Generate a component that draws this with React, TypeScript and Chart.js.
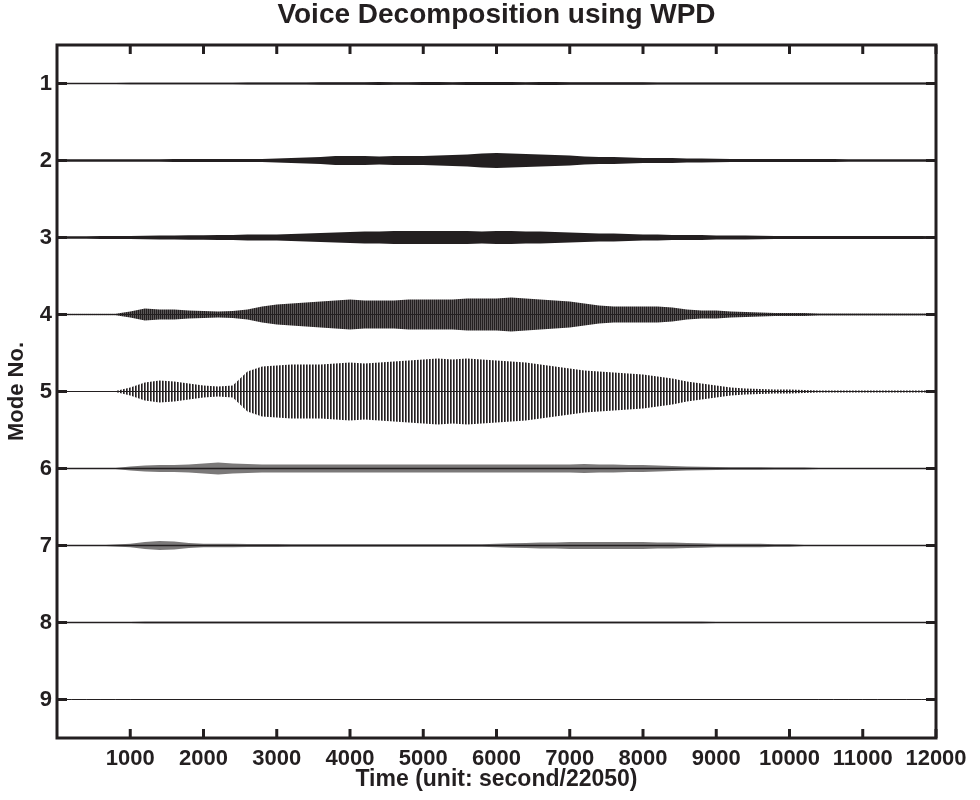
import React, { useEffect, useRef } from 'react';
import { Chart, registerables } from 'chart.js';

Chart.register(...registerables);

const TITLE = 'Voice Decomposition using WPD';
const X_TITLE = 'Time (unit: second/22050)';
const Y_TITLE = 'Mode No.';

const X_TICKS = [1000, 2000, 3000, 4000, 5000, 6000, 7000, 8000, 9000, 10000, 11000, 12000];
const MODES = [1, 2, 3, 4, 5, 6, 7, 8, 9];

// sample times of the envelope readings
const TIME = [
  0, 200, 400, 600, 800, 1000, 1200, 1400, 1600, 1800,
  2000, 2200, 2400, 2600, 2800, 3000, 3200, 3400, 3600, 3800,
  4000, 4200, 4400, 4600, 4800, 5000, 5200, 5400, 5600, 5800,
  6000, 6200, 6400, 6600, 6800, 7000, 7200, 7400, 7600, 7800,
  8000, 8200, 8400, 8600, 8800, 9000, 9200, 9400, 9600, 9800,
  10000, 10200, 10400, 10600, 10800, 11000, 11200, 11400, 11600, 11800, 12000,
];

// half-amplitude envelope of each mode (in mode-spacing units)
const MODE_1 = [
  0.008, 0.008, 0.008, 0.008, 0.008, 0.01, 0.01, 0.01, 0.01, 0.01,
  0.01, 0.01, 0.01, 0.012, 0.012, 0.012, 0.014, 0.014, 0.016, 0.016,
  0.016, 0.016, 0.018, 0.016, 0.016, 0.018, 0.018, 0.016, 0.018, 0.018,
  0.018, 0.018, 0.016, 0.018, 0.018, 0.016, 0.016, 0.016, 0.016, 0.016,
  0.016, 0.014, 0.014, 0.014, 0.014, 0.014, 0.014, 0.012, 0.012, 0.012,
  0.012, 0.012, 0.012, 0.012, 0.012, 0.012, 0.012, 0.012, 0.012, 0.012, 0.012,
];
const MODE_2 = [
  0.016, 0.016, 0.016, 0.016, 0.016, 0.016, 0.016, 0.016, 0.019, 0.019,
  0.019, 0.019, 0.019, 0.019, 0.019, 0.026, 0.032, 0.039, 0.045, 0.058,
  0.058, 0.058, 0.052, 0.058, 0.058, 0.058, 0.065, 0.071, 0.078, 0.091,
  0.097, 0.091, 0.084, 0.078, 0.071, 0.065, 0.052, 0.045, 0.045, 0.039,
  0.032, 0.032, 0.032, 0.026, 0.026, 0.023, 0.019, 0.019, 0.019, 0.019,
  0.019, 0.019, 0.019, 0.019, 0.016, 0.016, 0.016, 0.016, 0.016, 0.016, 0.016,
];
const MODE_3 = [
  0.016, 0.016, 0.016, 0.019, 0.019, 0.019, 0.023, 0.026, 0.026, 0.029,
  0.03, 0.032, 0.032, 0.039, 0.039, 0.039, 0.045, 0.052, 0.058, 0.065,
  0.071, 0.078, 0.078, 0.084, 0.084, 0.084, 0.084, 0.084, 0.084, 0.078,
  0.084, 0.084, 0.078, 0.078, 0.071, 0.065, 0.058, 0.052, 0.052, 0.045,
  0.039, 0.039, 0.032, 0.032, 0.032, 0.026, 0.026, 0.026, 0.023, 0.019,
  0.019, 0.019, 0.019, 0.019, 0.019, 0.019, 0.019, 0.019, 0.019, 0.019, 0.016,
];
const MODE_4 = [
  0.009, 0.009, 0.009, 0.009, 0.009, 0.039, 0.078, 0.065, 0.065, 0.052,
  0.045, 0.039, 0.045, 0.065, 0.104, 0.13, 0.143, 0.156, 0.169, 0.182,
  0.195, 0.182, 0.182, 0.182, 0.195, 0.195, 0.195, 0.195, 0.208, 0.208,
  0.208, 0.221, 0.208, 0.195, 0.182, 0.169, 0.143, 0.117, 0.104, 0.104,
  0.104, 0.104, 0.091, 0.065, 0.052, 0.052, 0.039, 0.032, 0.026, 0.019,
  0.019, 0.019, 0.013, 0.013, 0.013, 0.013, 0.013, 0.013, 0.013, 0.013, 0.013,
];
const MODE_5 = [
  0.006, 0.006, 0.006, 0.006, 0.006, 0.052, 0.117, 0.143, 0.13, 0.104,
  0.078, 0.065, 0.078, 0.26, 0.325, 0.338, 0.351, 0.351, 0.351, 0.364,
  0.377, 0.364, 0.377, 0.39, 0.403, 0.416, 0.429, 0.416, 0.429, 0.416,
  0.403, 0.39, 0.377, 0.351, 0.325, 0.299, 0.273, 0.26, 0.247, 0.234,
  0.221, 0.195, 0.169, 0.13, 0.104, 0.078, 0.052, 0.039, 0.032, 0.026,
  0.026, 0.019, 0.013, 0.013, 0.013, 0.013, 0.013, 0.013, 0.013, 0.013, 0.013,
];
const MODE_6 = [
  0.004, 0.004, 0.004, 0.004, 0.006, 0.026, 0.039, 0.045, 0.045, 0.052,
  0.065, 0.078, 0.065, 0.058, 0.052, 0.052, 0.052, 0.052, 0.052, 0.052,
  0.052, 0.052, 0.052, 0.052, 0.052, 0.052, 0.052, 0.052, 0.052, 0.052,
  0.052, 0.052, 0.052, 0.052, 0.052, 0.052, 0.058, 0.052, 0.052, 0.045,
  0.045, 0.039, 0.032, 0.026, 0.023, 0.019, 0.016, 0.016, 0.016, 0.013,
  0.013, 0.013, 0.006, 0.006, 0.006, 0.006, 0.006, 0.006, 0.006, 0.006, 0.006,
];
const MODE_7 = [
  0.004, 0.004, 0.004, 0.004, 0.013, 0.023, 0.045, 0.058, 0.052, 0.032,
  0.023, 0.023, 0.023, 0.019, 0.019, 0.019, 0.016, 0.016, 0.016, 0.016,
  0.016, 0.016, 0.016, 0.016, 0.016, 0.016, 0.016, 0.016, 0.016, 0.016,
  0.023, 0.03, 0.032, 0.039, 0.039, 0.045, 0.045, 0.045, 0.045, 0.045,
  0.045, 0.039, 0.039, 0.032, 0.03, 0.023, 0.023, 0.023, 0.023, 0.016,
  0.016, 0.008, 0.005, 0.005, 0.005, 0.005, 0.005, 0.005, 0.005, 0.005, 0.005,
];
const MODE_8 = [
  0.004, 0.004, 0.004, 0.004, 0.006, 0.008, 0.009, 0.009, 0.009, 0.009,
  0.009, 0.009, 0.009, 0.009, 0.009, 0.009, 0.009, 0.009, 0.009, 0.009,
  0.009, 0.009, 0.009, 0.009, 0.009, 0.009, 0.009, 0.009, 0.009, 0.009,
  0.009, 0.009, 0.009, 0.009, 0.009, 0.009, 0.009, 0.009, 0.009, 0.009,
  0.009, 0.009, 0.009, 0.009, 0.009, 0.008, 0.008, 0.008, 0.008, 0.008,
  0.008, 0.008, 0.006, 0.006, 0.006, 0.006, 0.006, 0.006, 0.006, 0.006, 0.006,
];
const MODE_9 = [
  0.004, 0.004, 0.004, 0.004, 0.004, 0.004, 0.005, 0.005, 0.005, 0.005,
  0.005, 0.005, 0.005, 0.005, 0.005, 0.005, 0.005, 0.005, 0.005, 0.005,
  0.005, 0.005, 0.005, 0.005, 0.005, 0.005, 0.005, 0.005, 0.005, 0.005,
  0.005, 0.005, 0.005, 0.005, 0.005, 0.005, 0.005, 0.005, 0.005, 0.005,
  0.005, 0.005, 0.005, 0.005, 0.005, 0.005, 0.005, 0.005, 0.005, 0.005,
  0.005, 0.005, 0.004, 0.004, 0.004, 0.004, 0.004, 0.004, 0.004, 0.004, 0.004,
];

const AMPLITUDES = [MODE_1, MODE_2, MODE_3, MODE_4, MODE_5, MODE_6, MODE_7, MODE_8, MODE_9];

const INK = '#231f20';
const FONT = "'Liberation Sans', Arial, Helvetica, sans-serif";

// band fill style per mode: 'solid', 'dense' hatching, 'hatch', or 'soft'
const BAND_STYLE = ['solid', 'solid', 'solid', 'dense', 'hatch', 'soft', 'soft', 'solid', 'solid'];
const LINE_WIDTH = [1.3, 1.2, 1.2, 1.2, 1.1, 1.3, 1.3, 1.5, 1.0];

const framePlugin = {
  id: 'matlabFrame',
  afterDatasetsDraw(chart: any) {
    const { ctx, chartArea, scales } = chart;
    const { left, right, top, bottom } = chartArea;
    const x = scales.x;
    const y = scales.y;
    ctx.save();
    ctx.strokeStyle = INK;
    ctx.lineWidth = 3;
    ctx.lineCap = 'butt';
    const seg = (x1: number, y1: number, x2: number, y2: number) => {
      ctx.beginPath();
      ctx.moveTo(x1, y1);
      ctx.lineTo(x2, y2);
      ctx.stroke();
    };
    X_TICKS.forEach((v) => {
      const px = x.getPixelForValue(v);
      seg(px, bottom, px, bottom - 9);
      seg(px, top, px, top + 9);
    });
    MODES.forEach((m) => {
      const py = y.getPixelForValue(m);
      seg(left, py, left + 10, py);
      seg(right, py, right - 10, py);
    });
    ctx.strokeRect(left, top, right - left, bottom - top);

    // title centred over the axes box
    ctx.fillStyle = INK;
    ctx.font = `bold 28px ${FONT}`;
    ctx.textAlign = 'center';
    ctx.textBaseline = 'middle';
    ctx.fillText(TITLE, (left + right) / 2, 15);
    ctx.restore();
  },
};

export default function App() {
  const ref = useRef<HTMLCanvasElement>(null);

  useEffect(() => {
    const canvas = ref.current;
    if (!canvas) return;
    const ctx = canvas.getContext('2d')!;

    const makePattern = (cols: string[]) => {
      const tile = document.createElement('canvas');
      tile.width = cols.length;
      tile.height = 1;
      const g = tile.getContext('2d')!;
      cols.forEach((c, i) => {
        if (c) {
          g.fillStyle = c;
          g.fillRect(i, 0, 1, 1);
        }
      });
      return ctx.createPattern(tile, 'repeat');
    };

    const fills: Record<string, any> = {
      solid: INK,
      dense: makePattern([INK, '#5a5657']),
      hatch: makePattern([INK, '#6e6a6b', '']),
      soft: 'rgba(35,31,32,0.6)',
    };

    const datasets: any[] = [];
    MODES.forEach((m, idx) => {
      const amp = AMPLITUDES[idx];
      datasets.push({
        data: TIME.map((t, i) => ({ x: t, y: m - amp[i] })),
        fill: '+1',
        backgroundColor: fills[BAND_STYLE[idx]],
        borderColor: 'rgba(0,0,0,0)',
        borderWidth: 0,
        pointRadius: 0,
      });
      datasets.push({
        data: TIME.map((t, i) => ({ x: t, y: m + amp[i] })),
        fill: false,
        borderColor: 'rgba(0,0,0,0)',
        borderWidth: 0,
        pointRadius: 0,
      });
      datasets.push({
        data: TIME.map((t) => ({ x: t, y: m })),
        fill: false,
        borderColor: INK,
        borderWidth: LINE_WIDTH[idx],
        pointRadius: 0,
      });
    });

    const tickFont = { family: FONT, size: 22, weight: 'bold' as const };
    const xTitleFont = { family: FONT, size: 23, weight: 'bold' as const };
    const yTitleFont = { family: FONT, size: 22, weight: 'bold' as const };

    const chart = new Chart(canvas, {
      type: 'line',
      data: { datasets },
      plugins: [framePlugin],
      options: {
        responsive: false,
        animation: false,
        devicePixelRatio: 1,
        events: [],
        layout: { padding: { left: 0, right: 44, top: 45, bottom: 0 } },
        plugins: {
          legend: { display: false },
          tooltip: { enabled: false },
          filler: { drawTime: 'beforeDatasetsDraw' },
          title: { display: false },
        },
        scales: {
          x: {
            type: 'linear',
            min: 0,
            max: 12000,
            afterBuildTicks: (s: any) => {
              s.ticks = X_TICKS.map((v) => ({ value: v }));
            },
            afterFit: (s: any) => {
              s.height = 62;
            },
            grid: { display: false, drawTicks: false },
            border: { display: false },
            ticks: {
              autoSkip: false,
              maxRotation: 0,
              minRotation: 0,
              padding: 8,
              color: INK,
              font: tickFont,
              callback: (v: any) => String(v),
            },
            title: {
              display: true,
              text: X_TITLE,
              color: INK,
              font: xTitleFont,
              padding: { top: 0, bottom: 6.5 },
            },
          },
          y: {
            type: 'linear',
            min: 0.5,
            max: 9.5,
            reverse: true,
            afterBuildTicks: (s: any) => {
              s.ticks = MODES.map((v) => ({ value: v }));
            },
            afterFit: (s: any) => {
              s.width = 57;
            },
            grid: { display: false, drawTicks: false },
            border: { display: false },
            ticks: {
              padding: 5,
              color: INK,
              font: tickFont,
              callback: (v: any) => String(v),
            },
            title: {
              display: true,
              text: Y_TITLE,
              color: INK,
              font: yTitleFont,
              padding: { top: 4, bottom: 0 },
            },
          },
        },
      } as any,
    });

    return () => chart.destroy();
  }, []);

  return (
    <div style={{ position: 'absolute', left: 0, top: 0, width: 980, height: 800, background: '#fff' }}>
      <canvas ref={ref} width={980} height={800} />
    </div>
  );
}
